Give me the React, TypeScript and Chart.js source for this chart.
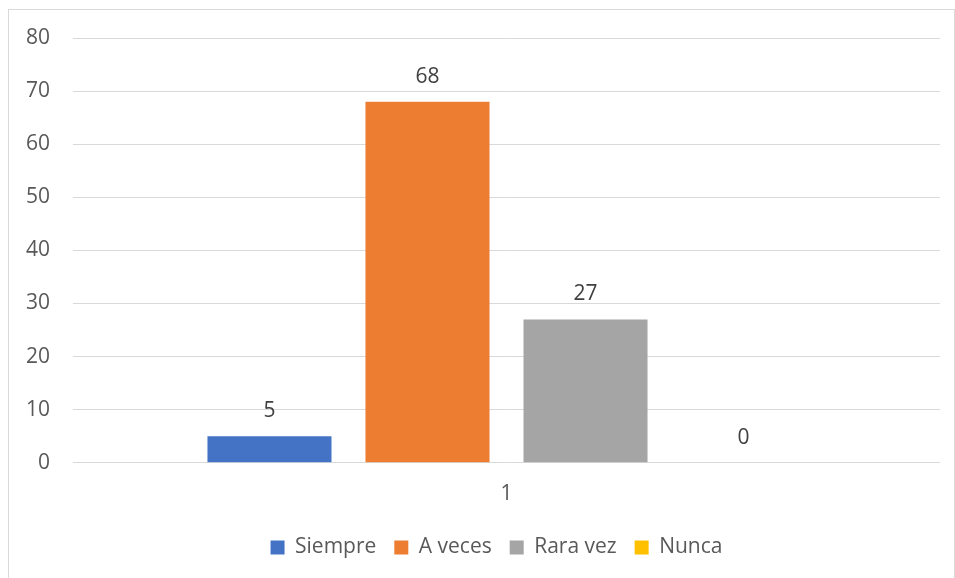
import React, { useEffect, useRef } from "react";
import { Chart, registerables } from "chart.js";

Chart.register(...registerables);

const categories = ["1"];
const seriesNames = ["Siempre", "A veces", "Rara vez", "Nunca"];
const seriesValues = [[5], [68], [27], [0]];
const seriesColors = ["#4472C4", "#ED7D31", "#A5A5A5", "#FFC000"];
const yTicks = { min: 0, max: 80, step: 10 };

const FONT = "'Open Sans', 'Liberation Sans', sans-serif";
const TEXT = "#595959";

const dataLabels = {
  id: "dataLabels",
  afterLayout(chart: any) {
    if (chart.legend) {
      chart.legend.left += 22;
      chart.legend.right += 22;
    }
  },
  afterDatasetsDraw(chart: any) {
    const ctx = chart.ctx;
    ctx.save();
    ctx.font = `21px ${FONT}`;
    ctx.fillStyle = "#404040";
    ctx.textAlign = "center";
    ctx.textBaseline = "middle";
    chart.data.datasets.forEach((ds: any, i: number) => {
      const meta = chart.getDatasetMeta(i);
      meta.data.forEach((el: any, j: number) => {
        ctx.fillText(String(ds.data[j]), el.x, el.y - 25);
      });
    });
    ctx.restore();
  },
};

export default function App() {
  const ref = useRef<HTMLCanvasElement>(null);
  useEffect(() => {
    if (!ref.current) return;
    const chart = new Chart(ref.current, {
      type: "bar",
      data: {
        labels: categories,
        datasets: seriesNames.map((name, i) => ({
          label: name,
          data: seriesValues[i],
          backgroundColor: seriesColors[i],
          borderWidth: 0,
          categoryPercentage: 0.729,
          barPercentage: 0.785,
        })),
      },
      options: {
        animation: false,
        responsive: true,
        maintainAspectRatio: false,
        layout: { padding: { top: 28, right: 14, left: 0, bottom: 15 } },
        plugins: {
          legend: {
            position: "bottom",
            labels: {
              font: { family: FONT, size: 21 },
              color: TEXT,
              boxWidth: 14,
              boxHeight: 14,
              padding: 18,
            },
          },
          tooltip: { enabled: false },
        },
        scales: {
          x: {
            afterFit: (s: any) => {
              s.height -= 7;
            },
            grid: { display: false, drawTicks: false },
            border: { display: false },
            ticks: { font: { family: FONT, size: 21 }, color: TEXT, padding: 19 },
          },
          y: {
            min: yTicks.min,
            max: yTicks.max,
            afterFit: (s: any) => {
              s.width = 64;
            },
            grid: {
              color: "#d9d9d9",
              lineWidth: 1,
              drawTicks: true,
              tickLength: 23,
              tickColor: "rgba(0,0,0,0)",
            },
            border: { display: false },
            ticks: {
              stepSize: yTicks.step,
              font: { family: FONT, size: 21 },
              color: TEXT,
              padding: 0,
            },
          },
        },
      },
      plugins: [dataLabels],
    });
    return () => chart.destroy();
  }, []);
  return (
    <div
      style={{
        position: "fixed",
        left: 8,
        top: 9,
        width: 947,
        height: 575,
        border: "1px solid #d9d9d9",
        boxSizing: "border-box",
        background: "#fff",
      }}
    >
      <canvas ref={ref} />
    </div>
  );
}
